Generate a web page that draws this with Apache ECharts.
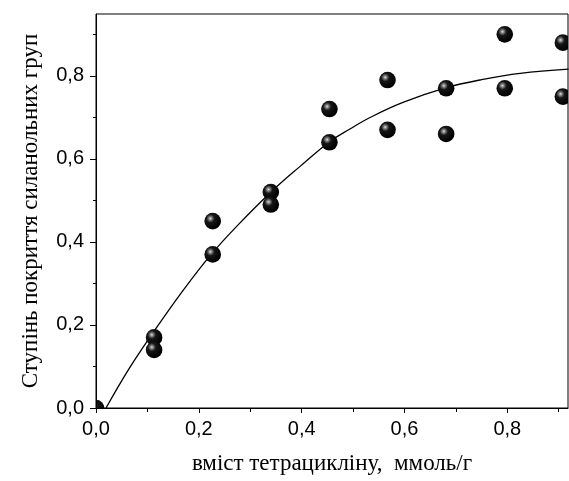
<!DOCTYPE html>
<html>
<head>
<meta charset="utf-8">
<script src="https://cdn.jsdelivr.net/npm/echarts@6/dist/echarts.min.js"></script>
<style>
  html, body { margin: 0; padding: 0; background: #fff; }
  #main { width: 569px; height: 481px; }
</style>
</head>
<body>
<div id="main"></div>
<script>
// measured points (tetracycline content vs. silanol coverage)
const doseX = [0, 0.113, 0.113, 0.227, 0.227, 0.34, 0.34, 0.454, 0.454,
  0.567, 0.567, 0.681, 0.681, 0.795, 0.795, 0.908, 0.908];
const coverY = [0, 0.17, 0.14, 0.45, 0.37, 0.52, 0.49, 0.72, 0.64,
  0.79, 0.67, 0.77, 0.66, 0.90, 0.77, 0.88, 0.75];

// fitted curve
const fitX = [0.0195, 0.065, 0.113, 0.168, 0.224, 0.274, 0.342, 0.397,
  0.455, 0.494, 0.532, 0.597, 0.683, 0.747, 0.825, 0.919];
const fitY = [0, 0.096, 0.185, 0.281, 0.37, 0.438, 0.522, 0.582,
  0.642, 0.672, 0.699, 0.736, 0.772, 0.790, 0.806, 0.816];

const xTicks = [0, 0.2, 0.4, 0.6, 0.8];
const xMinorTicks = [0.1, 0.3, 0.5, 0.7, 0.9];
const yTicks = [0, 0.2, 0.4, 0.6, 0.8];
const yMinorTicks = [0.1, 0.3, 0.5, 0.7, 0.9];

const xMax = 0.918;
const yMax = 0.949;

const chart = echarts.init(document.getElementById('main'), null, { renderer: 'canvas' });

function comma(v) {
  return v.toFixed(1).replace('.', ',');
}

const ball = {
  type: 'radial', x: 0.36, y: 0.34, r: 0.64,
  colorStops: [
    { offset: 0, color: '#e6e6e6' },
    { offset: 0.13, color: '#8c8c8c' },
    { offset: 0.38, color: '#161616' },
    { offset: 1, color: '#000' }
  ]
};

const lbl = { fontFamily: 'Liberation Sans', fontSize: 20, color: '#000' };
const ttl = { fontFamily: 'Liberation Serif', fontSize: 23, color: '#000' };

function xAx(values, len, withLabel) {
  return {
    type: 'value', min: 0, max: xMax, position: 'bottom', z: 100,
    splitLine: { show: false },
    axisLine: { show: withLabel, onZero: false, lineStyle: { color: '#000', width: 1 } },
    axisTick: { show: true, inside: false, length: len, customValues: values, lineStyle: { color: '#000' } },
    axisLabel: withLabel ? Object.assign({ show: true, margin: 11, customValues: xTicks, formatter: comma }, lbl) : { show: false },
    name: withLabel ? 'вміст тетрацикліну,  ммоль/г' : '',
    nameLocation: 'middle', nameGap: 44, nameTextStyle: ttl
  };
}

function yAx(values, len, withLabel) {
  return {
    type: 'value', min: 0, max: yMax, position: 'left', z: 100,
    splitLine: { show: false },
    axisLine: { show: withLabel, onZero: false, lineStyle: { color: '#000', width: 1 } },
    axisTick: { show: true, inside: false, length: len, customValues: values, lineStyle: { color: '#000' } },
    axisLabel: withLabel ? Object.assign({ show: true, margin: 12, customValues: yTicks, formatter: comma }, lbl) : { show: false },
    name: withLabel ? 'Ступінь покриття силанольних груп' : '',
    nameLocation: 'middle', nameRotate: 90, nameGap: 54, nameTextStyle: ttl
  };
}

const option = {
  backgroundColor: '#fff',
  animation: false,
  grid: {
    left: 96, right: 1, top: 14, bottom: 73,
    show: true, borderColor: '#000', borderWidth: 1, backgroundColor: 'transparent'
  },
  xAxis: [xAx(xTicks, 5, true), xAx(xMinorTicks, 4, false)],
  yAxis: [yAx(yTicks, 6, true), yAx(yMinorTicks, 3, false)],
  series: [
    {
      type: 'line',
      data: fitX.map((x, i) => [x, fitY[i]]),
      smooth: 0.4,
      showSymbol: false,
      lineStyle: { color: '#000', width: 1.3 },
      z: 2
    },
    {
      // balls drawn as a custom series so the frame cuts them
      type: 'custom',
      clip: true,
      data: doseX.map((x, i) => [x, coverY[i]]),
      renderItem: function (params, api) {
        const p = api.coord([api.value(0), api.value(1)]);
        return {
          type: 'circle',
          shape: { cx: p[0], cy: p[1], r: 8.3 },
          style: { fill: ball }
        };
      },
      z: 3
    }
  ]
};

chart.setOption(option);
</script>
</body>
</html>
